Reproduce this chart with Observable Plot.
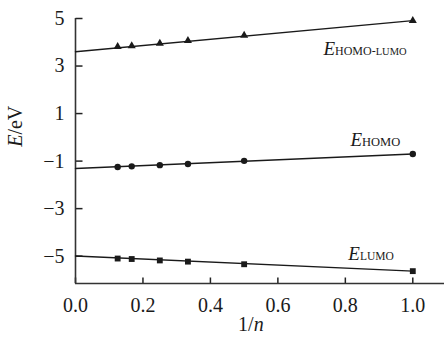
<!DOCTYPE html>
<html><head><meta charset="utf-8">
<script src="https://cdn.jsdelivr.net/npm/d3@7"></script>
<script src="https://cdn.jsdelivr.net/npm/@observablehq/plot@0.6"></script>
<style>
html,body{margin:0;padding:0;background:#fff;}
</style></head><body><div id="chart"></div>
<script>
// 1/n values (n = 8, 6, 4, 3, 2, 1)
const invN = [1/8, 1/6, 1/4, 1/3, 1/2, 1];
const eGap  = [3.82, 3.85, 3.95, 4.07, 4.29, 4.91];
const eHomo = [-1.25, -1.22, -1.17, -1.12, -0.99, -0.70];
const eLumo = [-5.10, -5.12, -5.18, -5.23, -5.34, -5.63];
// linear fit end points
const fitX    = [0, 1];
const fitGap  = [3.60, 4.91];
const fitHomo = [-1.31, -0.70];
const fitLumo = [-4.99, -5.63];
const xTicks = [0, 0.2, 0.4, 0.6, 0.8, 1.0];
const yTicks = [5, 3, 1, -1, -3, -5];
const labelNames = ["HOMO-LUMO", "HOMO", "LUMO"];

const pts = (ys) => invN.map((x, i) => ({x, y: ys[i]}));
const fit = (ys) => fitX.map((x, i) => ({x, y: ys[i]}));
const labels = [
  {name: labelNames[0], x: 0.735, y: 3.71},
  {name: labelNames[1], x: 0.815, y: -0.12},
  {name: labelNames[2], x: 0.809, y: -4.91}
];
const ink = "#1a1a1a";
// inward tick shapes
const tickUp = {draw(ctx) { ctx.moveTo(0, 0); ctx.lineTo(0, -6); }};
const tickRight = {draw(ctx) { ctx.moveTo(0, 0); ctx.lineTo(7, 0); }};

const chart = Plot.plot({
  width: 444, height: 341,
  marginLeft: 75, marginRight: 0, marginTop: 18, marginBottom: 58,
  x: {domain: [0, 1.094]},
  y: {domain: [-6.15, 5]},
  style: {fontFamily: "'Liberation Serif','Times New Roman',serif", fontSize: "20px", color: ink, background: "#fff"},
  marks: [
    Plot.axisX({ticks: xTicks, tickSize: 0, tickPadding: 14, tickFormat: d3.format(".1f"), label: null}),
    Plot.axisY({ticks: yTicks, tickSize: 0, tickPadding: 11, label: null}),
    Plot.dot(xTicks, {x: d => d, frameAnchor: "bottom", symbol: tickUp, fill: "none", stroke: "#222", strokeWidth: 1.5}),
    Plot.dot(yTicks, {y: d => d, frameAnchor: "left", symbol: tickRight, fill: "none", stroke: "#222", strokeWidth: 1.5}),
    Plot.ruleX([0], {stroke: "#333", strokeWidth: 1.6}),
    Plot.ruleY([-6.15], {stroke: "#333", strokeWidth: 1.6}),
    Plot.line(fit(fitGap), {x: "x", y: "y", stroke: ink, strokeWidth: 1.4}),
    Plot.line(fit(fitHomo), {x: "x", y: "y", stroke: ink, strokeWidth: 1.4}),
    Plot.line(fit(fitLumo), {x: "x", y: "y", stroke: ink, strokeWidth: 1.4}),
    Plot.dot(pts(eGap), {x: "x", y: "y", symbol: "triangle", r: 3.0, fill: ink, stroke: "none"}),
    Plot.dot(pts(eHomo), {x: "x", y: "y", symbol: "circle", r: 3.2, fill: ink, stroke: "none"}),
    Plot.dot(pts(eLumo), {x: "x", y: "y", symbol: "square", r: 3.3, fill: ink, stroke: "none"}),
    Plot.text(labels, {x: "x", y: "y", text: d => "E|" + d.name, textAnchor: "start", fontSize: 19, fill: ink}),
    Plot.text(["1|/|n"], {x: 0.52, frameAnchor: "bottom", dy: 47, text: d => d, fontSize: 20, fill: ink}),
    Plot.text(["E|/eV"], {y: -0.4, frameAnchor: "left", dx: -60, rotate: -90, text: d => d, fontSize: 20, fill: ink})
  ]
});
document.getElementById("chart").appendChild(chart);

// rich text: italic E / n and subscripts
const NS = "http://www.w3.org/2000/svg";
chart.querySelectorAll("text").forEach(t => {
  const s = t.textContent;
  if (!s.includes("|")) return;
  const parts = s.split("|");
  t.textContent = "";
  const add = (txt, attrs) => {
    const ts = document.createElementNS(NS, "tspan");
    ts.textContent = txt;
    for (const k in attrs) ts.setAttribute(k, attrs[k]);
    t.appendChild(ts);
  };
  if (parts[0] === "E" && parts.length === 2 && parts[1] !== "/eV") {
    add("E", {"font-style": "italic", "font-size": 19});
    const sub = parts[1];
    if (sub === "HOMO-LUMO") {
      add("HOMO-", {"font-size": 12});
      add("LUMO", {"font-size": 10.5});
    } else if (sub === "HOMO") {
      add("HOMO", {"font-size": 12.5});
    } else {
      add("LUMO", {"font-size": 11.5});
    }
  } else if (parts[0] === "E") {
    add("E", {"font-style": "italic"});
    add("/eV", {});
  } else {
    add("1/", {});
    add("n", {"font-style": "italic"});
  }
});
</script>
</body></html>
